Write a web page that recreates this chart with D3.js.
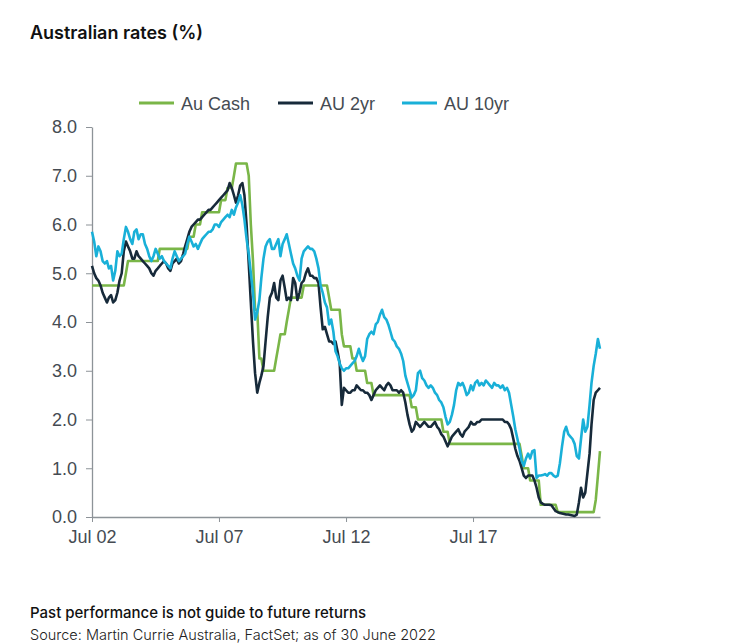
<!DOCTYPE html>
<html>
<head>
<meta charset="utf-8">
<script src="https://cdn.jsdelivr.net/npm/d3@7"></script>
<style>
  body { margin: 0; background: #fff; }
  svg { display: block; }
  .tick text { font-family: "Liberation Sans", Arial, sans-serif; font-size: 18px; fill: #454b52; }
  .domain, .tick line { stroke: #8d9398; }
</style>
</head>
<body>
<svg id="chart" width="753" height="643"></svg>
<script>
// monthly series, Jul 2002 .. Jul 2022 (one row per Jul-Jun year)
const startMonth = new Date(2002, 6, 1);

const auCash = [
  4.75,4.75,4.75,4.75,4.75,4.75,4.75,4.75,4.75,4.75,4.75,4.75,
  4.75,4.75,4.75,4.75,5.0,5.25,5.25,5.25,5.25,5.25,5.25,5.25,
  5.25,5.25,5.25,5.25,5.25,5.25,5.25,5.25,5.5,5.5,5.5,5.5,
  5.5,5.5,5.5,5.5,5.5,5.5,5.5,5.5,5.5,5.5,5.75,5.75,
  5.75,6.0,6.0,6.0,6.25,6.25,6.25,6.25,6.25,6.25,6.25,6.25,
  6.25,6.5,6.5,6.5,6.75,6.75,6.75,7.0,7.25,7.25,7.25,7.25,
  7.25,7.25,7.0,6.0,5.25,4.25,4.25,3.25,3.25,3.0,3.0,3.0,
  3.0,3.0,3.0,3.25,3.5,3.75,3.75,3.75,4.0,4.25,4.5,4.5,
  4.5,4.5,4.5,4.5,4.75,4.75,4.75,4.75,4.75,4.75,4.75,4.75,
  4.75,4.75,4.75,4.75,4.5,4.25,4.25,4.25,4.25,4.25,3.75,3.5,
  3.5,3.5,3.5,3.25,3.25,3.0,3.0,3.0,3.0,3.0,2.75,2.75,
  2.75,2.5,2.5,2.5,2.5,2.5,2.5,2.5,2.5,2.5,2.5,2.5,
  2.5,2.5,2.5,2.5,2.5,2.5,2.5,2.25,2.25,2.25,2.0,2.0,
  2.0,2.0,2.0,2.0,2.0,2.0,2.0,2.0,2.0,2.0,1.75,1.75,
  1.75,1.5,1.5,1.5,1.5,1.5,1.5,1.5,1.5,1.5,1.5,1.5,
  1.5,1.5,1.5,1.5,1.5,1.5,1.5,1.5,1.5,1.5,1.5,1.5,
  1.5,1.5,1.5,1.5,1.5,1.5,1.5,1.5,1.5,1.5,1.5,1.25,
  1.0,1.0,1.0,0.75,0.75,0.75,0.75,0.75,0.25,0.25,0.25,0.25,
  0.25,0.25,0.25,0.25,0.1,0.1,0.1,0.1,0.1,0.1,0.1,0.1,
  0.1,0.1,0.1,0.1,0.1,0.1,0.1,0.1,0.1,0.1,0.35,0.85,
  1.35
];

const au2yr = [
  5.15,5.0,4.9,4.85,4.75,4.6,4.5,4.4,4.5,4.55,4.4,4.45,
  4.6,4.85,5.0,5.45,5.65,5.55,5.45,5.3,5.3,5.45,5.35,5.3,
  5.25,5.2,5.15,5.1,5.0,4.95,5.05,5.1,5.15,5.2,5.25,5.2,
  5.1,5.05,5.2,5.25,5.3,5.2,5.25,5.4,5.55,5.7,5.85,5.95,
  6.0,6.05,6.1,6.1,6.15,6.2,6.25,6.3,6.3,6.35,6.4,6.45,
  6.5,6.55,6.6,6.65,6.7,6.85,6.75,6.6,6.45,6.6,6.8,6.85,
  6.6,6.0,5.2,4.4,3.6,2.95,2.55,2.75,2.9,3.1,3.6,4.1,
  4.5,4.6,4.8,4.5,4.45,4.85,4.95,4.7,4.45,4.5,4.45,4.9,
  4.8,4.45,4.6,4.8,4.85,5.0,5.1,4.95,4.95,4.9,4.9,4.8,
  4.3,3.85,3.9,3.75,3.6,3.6,3.55,3.6,3.4,3.15,2.3,2.65,
  2.6,2.55,2.55,2.6,2.6,2.7,2.65,2.6,2.6,2.55,2.55,2.5,
  2.4,2.5,2.6,2.65,2.7,2.65,2.6,2.7,2.75,2.7,2.6,2.6,
  2.6,2.55,2.6,2.55,2.35,2.1,1.9,1.75,1.8,1.95,1.9,1.85,
  1.9,1.95,1.9,1.85,1.85,1.9,1.95,1.85,1.8,1.7,1.65,1.55,
  1.45,1.55,1.65,1.7,1.75,1.8,1.7,1.65,1.75,1.8,1.85,1.95,
  1.9,1.9,1.95,1.95,2.0,2.0,2.0,2.0,2.0,2.0,2.0,2.0,
  2.0,2.0,2.0,1.95,1.95,1.9,1.8,1.6,1.4,1.25,1.15,1.0,
  0.85,0.8,0.85,0.85,0.85,0.75,0.6,0.4,0.3,0.27,0.25,0.25,
  0.25,0.24,0.18,0.12,0.1,0.08,0.07,0.06,0.05,0.05,0.04,0.03,
  0.02,0.05,0.3,0.6,0.4,0.5,0.9,1.3,1.9,2.4,2.55,2.6,
  2.65
];

const au10yr = [
  5.85,5.65,5.35,5.55,5.45,5.25,5.2,5.25,5.1,5.15,4.85,5.05,
  5.45,5.35,5.4,5.7,5.95,5.85,5.7,5.6,5.85,5.9,5.7,5.8,
  5.8,5.6,5.5,5.35,5.25,5.35,5.5,5.4,5.3,5.35,5.25,5.2,
  5.15,5.1,5.3,5.45,5.35,5.25,5.3,5.35,5.4,5.6,5.75,5.65,
  5.55,5.6,5.5,5.6,5.7,5.75,5.8,5.85,5.85,5.9,6.0,6.0,
  5.95,6.05,6.1,6.15,6.2,6.15,6.3,6.2,6.35,6.45,6.6,6.4,
  6.1,5.7,5.4,5.0,4.6,4.05,4.2,4.45,4.9,5.3,5.55,5.65,
  5.7,5.5,5.5,5.6,5.7,5.35,5.6,5.7,5.8,5.6,5.4,5.2,
  5.1,4.95,4.85,5.3,5.45,5.5,5.55,5.5,5.5,5.45,5.3,5.1,
  4.75,4.6,4.4,4.3,3.95,4.05,3.8,3.4,3.3,3.15,3.05,3.0,
  3.05,3.05,3.1,3.15,3.2,3.3,3.45,3.3,3.2,3.3,3.65,3.75,
  3.8,3.75,3.95,4.0,4.15,4.25,4.1,4.05,3.95,3.8,3.65,3.6,
  3.5,3.45,3.35,3.2,2.9,2.75,2.6,2.45,2.5,2.6,2.95,3.0,
  2.85,2.8,2.7,2.65,2.7,2.65,2.55,2.5,2.4,2.35,2.25,2.05,
  1.9,1.95,2.1,2.3,2.6,2.75,2.7,2.75,2.65,2.5,2.55,2.7,
  2.6,2.75,2.8,2.7,2.75,2.7,2.8,2.75,2.7,2.65,2.75,2.7,
  2.7,2.65,2.7,2.6,2.65,2.55,2.3,2.05,1.8,1.6,1.4,1.15,
  1.05,1.2,1.3,1.2,1.35,1.37,0.8,0.85,0.85,0.86,0.88,0.85,
  0.9,0.9,0.85,0.82,0.85,1.1,1.45,1.75,1.85,1.7,1.65,1.6,
  1.5,1.25,1.2,1.6,2.0,1.75,1.85,2.3,2.75,3.1,3.35,3.65,
  3.45
];

const seriesNames = ['Au Cash', 'AU 2yr', 'AU 10yr'];
const seriesColors = ['#7ab648', '#172a3a', '#19b0d8'];
const yTicks = [0, 1, 2, 3, 4, 5, 6, 7, 8];
const xTickDates = [new Date(2002, 6, 1), new Date(2007, 6, 1), new Date(2012, 6, 1), new Date(2017, 6, 1)];

const svg = d3.select('#chart');

const x = d3.scaleTime()
    .domain([startMonth, new Date(2022, 6, 1)])
    .range([92, 600]);

const y = d3.scaleLinear()
    .domain([0, 8])
    .range([517, 127]);

// Title
svg.append('text')
    .attr('x', 30)
    .attr('y', 39)
    .attr('font-family', 'Inter, sans-serif')
    .attr('font-weight', 600)
    .attr('font-size', 18)
    .attr('fill', '#111')
    .text('Australian rates (%)');

// Axes
svg.append('g')
    .attr('transform', 'translate(92,0)')
    .call(d3.axisLeft(y).tickValues(yTicks).tickFormat(d3.format('.1f')).tickSize(6).tickSizeOuter(0).tickPadding(9));

svg.append('g')
    .attr('transform', 'translate(0,517)')
    .call(d3.axisBottom(x).tickValues(xTickDates).tickFormat(d3.timeFormat('%b %y')).tickSize(5).tickSizeOuter(0).tickPadding(8));

svg.selectAll('.domain').attr('stroke-width', 1.3);

// Lines
const line = d3.line()
    .x((d, i) => x(d3.timeMonth.offset(startMonth, i)))
    .y(d => y(d));

[auCash, au2yr, au10yr].forEach((values, i) => {
    svg.append('path')
        .datum(values)
        .attr('fill', 'none')
        .attr('stroke', seriesColors[i])
        .attr('stroke-width', 2.6)
        .attr('stroke-linejoin', 'round')
        .attr('d', line);
});

// Legend
const legendX = [139, 278, 402];
const legend = svg.append('g');
seriesNames.forEach((name, i) => {
    legend.append('line')
        .attr('x1', legendX[i]).attr('x2', legendX[i] + 35)
        .attr('y1', 103).attr('y2', 103)
        .attr('stroke', seriesColors[i])
        .attr('stroke-width', 3);
    legend.append('text')
        .attr('x', legendX[i] + 42)
        .attr('y', 109.5)
        .attr('font-family', '"Liberation Sans", Arial, sans-serif')
        .attr('font-size', 18)
        .attr('fill', '#454b52')
        .text(name);
});

// Footer
svg.append('text')
    .attr('x', 30)
    .attr('y', 618)
    .attr('font-family', 'Inter, sans-serif')
    .attr('font-weight', 500)
    .attr('font-size', 15)
    .attr('fill', '#111')
    .text('Past performance is not guide to future returns');

svg.append('text')
    .attr('x', 30)
    .attr('y', 640)
    .attr('font-family', 'Inter, sans-serif')
    .attr('font-weight', 300)
    .attr('font-size', 14.5)
    .attr('fill', '#222')
    .text('Source: Martin Currie Australia, FactSet; as of 30 June 2022');
</script>
</body>
</html>
